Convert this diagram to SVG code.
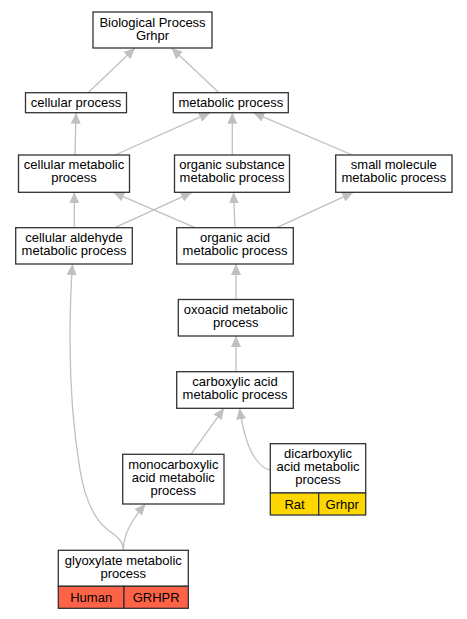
<svg xmlns="http://www.w3.org/2000/svg" width="467" height="619" viewBox="0 0 467 619">
<style>
.n rect{fill:#fff;stroke:#333;stroke-width:1.3}
.n rect.h{fill:#ff6347}
.n rect.r{fill:#ffd700}
text{font-family:"Liberation Sans",Arial,sans-serif;font-size:13px;fill:#000;text-anchor:middle}
.e path{fill:none;stroke:#c0c0c0;stroke-width:1.3;marker-end:url(#a)}
</style>
<defs>
<marker id="a" markerUnits="userSpaceOnUse" viewBox="0 0 11 10" markerWidth="11" markerHeight="10" refX="11" refY="5" orient="auto">
<path d="M0,0 L11,5 L0,10 z" fill="#c0c0c0"/>
</marker>
</defs>
<rect width="467" height="619" fill="#fff"/>
<g class="e">
<path d="M88,92.7 L135,48"/>
<path d="M219,92.7 L171.5,48"/>
<path d="M75,155 L76,112.7"/>
<path d="M115,155 L210,112.7"/>
<path d="M232.3,155 L232.3,112.7"/>
<path d="M352.3,155 L253.3,112.7"/>
<path d="M74.3,227.7 L74.3,192.3"/>
<path d="M115,227.7 L192,192.3"/>
<path d="M195,227.7 L113.3,192.3"/>
<path d="M235,227.7 L233.5,192.3"/>
<path d="M276.7,227.7 L353.3,192.3"/>
<path d="M236,299.3 L236,264"/>
<path d="M236,371.7 L236,336"/>
<path d="M191,454.3 L224,408.3"/>
<path d="M270,470 C259,468 250,452 246,438 C243,428 241,418 239.5,408.3"/>
<path d="M123.5,550 C123,538 128,528 134,519 C138,513 142,508 145.5,504"/>
<path d="M123.5,550 C123,540 115,535 108,530 C95,520 85,500 80,470 C75,440 70,400 70,340 C70,300 71,285 72.5,264"/>
</g>
<g id="n_bp" class="n"><rect x="93" y="12" width="119" height="36"/><text x="152.5" y="26.5">Biological Process</text><text x="152.5" y="39.5">Grhpr</text></g>
<g id="n_cp" class="n"><rect x="25.5" y="92.7" width="101" height="20"/><text x="76" y="107.2">cellular process</text></g>
<g id="n_mp" class="n"><rect x="173.3" y="92.7" width="115" height="20"/><text x="230.8" y="107.2">metabolic process</text></g>
<g id="n_cmp" class="n"><rect x="18.5" y="155" width="111" height="37.3"/><text x="74" y="169.3">cellular metabolic</text><text x="74" y="182.3">process</text></g>
<g id="n_osmp" class="n"><rect x="174.5" y="155" width="115" height="37.3"/><text x="232" y="169.3">organic substance</text><text x="232" y="182.3">metabolic process</text></g>
<g id="n_smmp" class="n"><rect x="335.7" y="155" width="116.3" height="37.3"/><text x="393.8" y="169.3">small molecule</text><text x="393.8" y="182.3">metabolic process</text></g>
<g id="n_camp" class="n"><rect x="15.7" y="227.7" width="116.6" height="36.3"/><text x="74" y="241.7">cellular aldehyde</text><text x="74" y="254.7">metabolic process</text></g>
<g id="n_oamp" class="n"><rect x="176.7" y="227.7" width="116.6" height="36.3"/><text x="235" y="241.7">organic acid</text><text x="235" y="254.7">metabolic process</text></g>
<g id="n_oxmp" class="n"><rect x="178.3" y="299.5" width="115" height="36.5"/><text x="235.8" y="313.5">oxoacid metabolic</text><text x="235.8" y="326.5">process</text></g>
<g id="n_camp2" class="n"><rect x="176.7" y="371.7" width="116.6" height="36.6"/><text x="235" y="386">carboxylic acid</text><text x="235" y="399">metabolic process</text></g>
<g id="n_mcamp" class="n"><rect x="122.7" y="454.3" width="101.3" height="49.7"/><text x="173.3" y="468.8">monocarboxylic</text><text x="173.3" y="481.8">acid metabolic</text><text x="173.3" y="494.8">process</text></g>
<g id="n_dcamp" class="n"><rect x="270.3" y="443.7" width="95.4" height="49.3"/><rect class="r" x="270.3" y="493" width="48.4" height="22"/><rect class="r" x="318.7" y="493" width="47" height="22"/><text x="318" y="458">dicarboxylic</text><text x="318" y="471">acid metabolic</text><text x="318" y="484">process</text><text x="294.5" y="508.5">Rat</text><text x="342.2" y="508.5">Grhpr</text></g>
<g id="n_gmp" class="n"><rect x="58.3" y="550.3" width="130" height="36"/><rect class="h" x="58.3" y="586.3" width="65.7" height="22"/><rect class="h" x="124" y="586.3" width="64.3" height="22"/><text x="123.3" y="565.3">glyoxylate metabolic</text><text x="123.3" y="578.3">process</text><text x="91.2" y="601.8">Human</text><text x="156.2" y="601.8">GRHPR</text></g>
</svg>
